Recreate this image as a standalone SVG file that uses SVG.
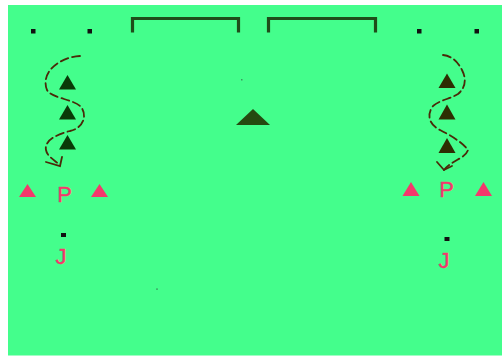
<svg xmlns="http://www.w3.org/2000/svg" width="502" height="358" viewBox="0 0 502 358">
<style>
.goal{fill:none;stroke:#1f4d1a;stroke-width:3.2}
.dot{fill:#111}
.cone{fill:#0a3a08}
.coneR{fill:#2e2e02}
.pink{fill:#f4386c}
.lbl{fill:#f4386c;stroke:#f4386c;stroke-width:0.4;font-family:"Liberation Sans",Arial,sans-serif;font-size:22px;text-anchor:middle}
.run{fill:none;stroke:#4a2a08;stroke-width:1.8;stroke-dasharray:8 4;stroke-linecap:round}
.head{fill:none;stroke:#4a2a08;stroke-width:1.8;stroke-linecap:round}
</style>
<rect x="0" y="0" width="502" height="358" fill="#ffffff"/>
<rect x="8" y="5" width="494" height="350.5" fill="#44fe8c"/>
<g id="goal-left"><path class="goal" d="M132.5,32.5 V18.5 H238.5 V32.5"/></g>
<g id="goal-right"><path class="goal" d="M268.5,32.5 V18.5 H375.5 V32.5"/></g>
<g id="dots-top">
<rect class="dot" x="31" y="29" width="4.5" height="4.5"/>
<rect class="dot" x="87.5" y="29" width="4.5" height="4.5"/>
<rect class="dot" x="417" y="29" width="4.5" height="4.5"/>
<rect class="dot" x="474.5" y="29" width="4.5" height="4.5"/>
</g>
<g id="center-cone"><polygon fill="#254a10" points="253,109 236,125 270,125"/></g>
<g id="specks">
<rect x="241" y="79" width="1.5" height="1.5" fill="#3a9a60"/>
<rect x="156" y="288.5" width="2" height="1.2" fill="#3a9a60"/>
</g>
<g id="cones-left">
<polygon class="cone" points="67.5,75 59,89.5 76,89.5"/>
<polygon class="cone" points="67.5,105 59,119.5 76,119.5"/>
<polygon class="cone" points="67.5,135 59,149.5 76,149.5"/>
</g>
<g id="cones-right">
<polygon class="coneR" points="447,73.5 438.5,88 455.5,88"/>
<polygon class="coneR" points="447,104.5 438.5,119.5 455.5,119.5"/>
<polygon class="coneR" points="447,138 438.5,153 455.5,153"/>
</g>
<g id="connectors">
<path class="run" d="M80,56 C60,57 40,72 47,90 C51,98 72,99 80,106 C88,114 84,128 70,131 C58,134 44,140 46,150 C47,156 54,160 60,165"/>
<path class="head" d="M46,162 L60,166 L62,157"/>
<path class="run" d="M443,55 C452,56 458,62 462,70 C467,80 465,88 458,94 C450,99 440,100 433,106 C427,114 428,124 440,130 C450,135 462,142 468,150 C466,158 452,160 444,170"/>
<path class="head" d="M437,162 L444,170 L452,166"/>
</g>
<g id="group-left">
<polygon class="pink" points="27.5,184 19,197 36,197"/>
<polygon class="pink" points="99.5,184 91,197 108,197"/>
<text class="lbl" x="64.5" y="202">P</text>
<rect class="dot" x="61" y="233" width="5" height="4"/>
<text class="lbl" x="61" y="264">J</text>
</g>
<g id="group-right">
<polygon class="pink" points="411,182 402.5,196 419.5,196"/>
<polygon class="pink" points="483.5,182 475,196 492,196"/>
<text class="lbl" x="446.5" y="197">P</text>
<rect class="dot" x="444.5" y="237" width="5" height="4"/>
<text class="lbl" x="444" y="268">J</text>
</g>
</svg>
